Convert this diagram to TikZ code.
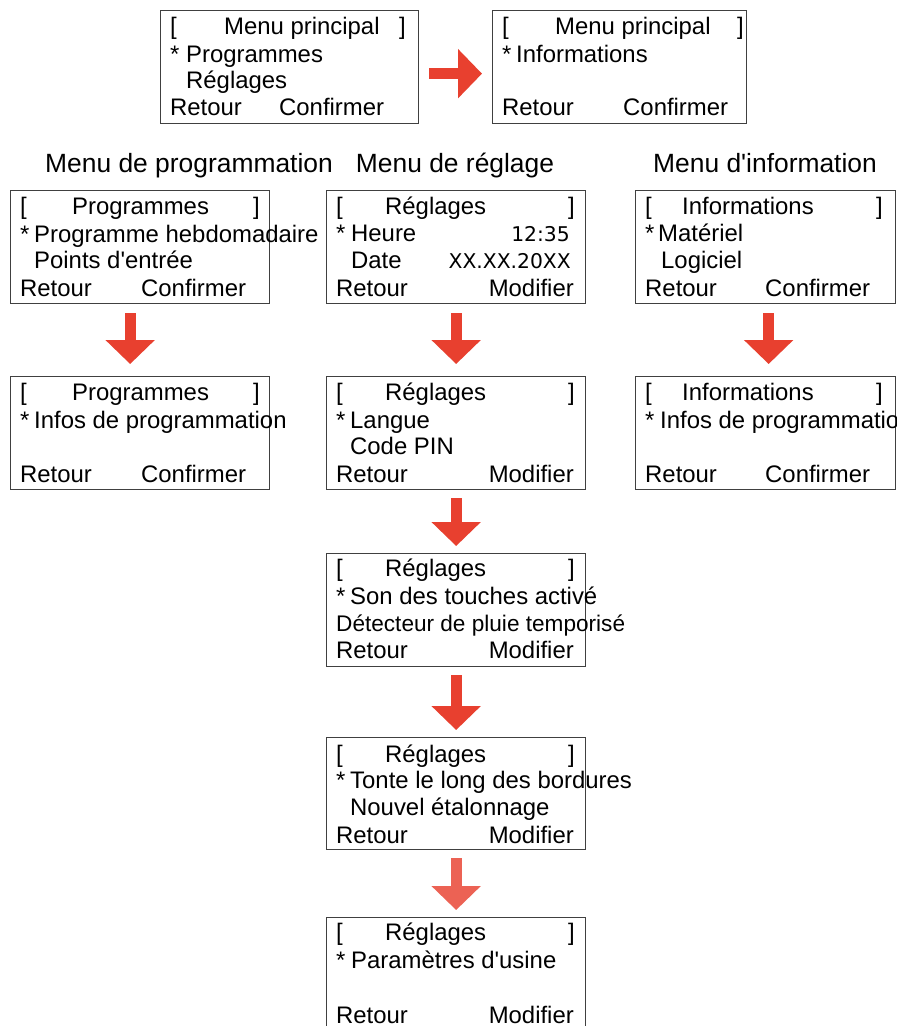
\documentclass[tikz,border=0pt]{standalone}
\usepackage{fontspec}
\setmainfont{Liberation Sans}
\newfontfamily\lcdfont{DejaVu Sans}
\usetikzlibrary{arrows.meta, positioning}
\definecolor{arrowred}{RGB}{232,64,47}
\definecolor{arrowpale}{RGB}{236,98,84}

\begin{document}
\begin{tikzpicture}[x=1pt, y=-1pt,
	screen/.style={draw=black!75, line width=1.3pt, inner sep=0pt, anchor=north west, minimum width=259pt, minimum height=113pt},
	txt/.style={anchor=base west, inner sep=0pt, font=\fontsize{23.9}{28}\selectfont},
	txtr/.style={txt, anchor=base east},
	lcd/.style={anchor=base east, inner sep=0pt, font=\lcdfont\fontsize{20.3}{24}\selectfont},
	heading/.style={anchor=base, inner sep=0pt, font=\fontsize{26.4}{30}\selectfont},
	flow/.style={draw=arrowred, line width=11pt, -{Triangle[width=48pt,length=24pt]}, shorten <=8pt, shorten >=7pt}]
				\path[use as bounding box, clip] (0,0) rectangle (897,1026);
				\fill[white] (0,0) rectangle (897,1026);
				\node[screen, minimum width=258pt] (main1) at (160,10) {};
				\node[txt] (main1-o) at ([shift={(10,24)}]main1.north west) {[};
				\node[txt] (main1-t) at ([shift={(64,24)}]main1.north west) {Menu principal};
				\node[txt] (main1-c) at ([shift={(239,24)}]main1.north west) {]};
				\node[txt] (main1-s) at ([shift={(10,52)}]main1.north west) {*};
				\node[txt] (main1-a) at ([shift={(26,52)}]main1.north west) {Programmes};
				\node[txt] (main1-b) at ([shift={(26,78)}]main1.north west) {Réglages};
				\node[txt] (main1-k) at ([shift={(10,105)}]main1.north west) {Retour};
				\node[txt] (main1-m) at ([shift={(119,105)}]main1.north west) {Confirmer};
				\node[screen, minimum width=254pt] (main2) at (492,10) {};
				\node[txt] (main2-o) at ([shift={(10,24)}]main2.north west) {[};
				\node[txt] (main2-t) at ([shift={(63,24)}]main2.north west) {Menu principal};
				\node[txt] (main2-c) at ([shift={(245,24)}]main2.north west) {]};
				\node[txt] (main2-s) at ([shift={(10,52)}]main2.north west) {*};
				\node[txt] (main2-a) at ([shift={(24,52)}]main2.north west) {Informations};
				\node[txt] (main2-k) at ([shift={(10,105)}]main2.north west) {Retour};
				\node[txt] (main2-m) at ([shift={(131,105)}]main2.north west) {Confirmer};
				\draw[flow, shorten <=10pt, shorten >=10pt] ([yshift=-6.5pt]main1.east) -- ([yshift=-6.5pt]main2.west);
				\node[heading] (hprog) at (189,172) {Menu de programmation};
				\node[heading] (hregl) at (455,172) {Menu de réglage};
				\node[heading] (hinfo) at (765,172) {Menu d\textquotesingle information};
				\node[screen] (prog1) at (10,190) {};
				\node[txt] (prog1-o) at ([shift={(10,24)}]prog1.north west) {[};
				\node[txt] (prog1-t) at ([shift={(62,24)}]prog1.north west) {Programmes};
				\node[txt] (prog1-c) at ([shift={(243,24)}]prog1.north west) {]};
				\node[txt] (prog1-s) at ([shift={(10,52)}]prog1.north west) {*};
				\node[txt] (prog1-a) at ([shift={(24,52)}]prog1.north west) {Programme hebdomadaire};
				\node[txt] (prog1-b) at ([shift={(24,78)}]prog1.north west) {Points d\textquotesingle entrée};
				\node[txt] (prog1-k) at ([shift={(10,106)}]prog1.north west) {Retour};
				\node[txt] (prog1-m) at ([shift={(131,106)}]prog1.north west) {Confirmer};
				\node[screen] (regl1) at (326,190) {};
				\node[txt] (regl1-o) at ([shift={(10,24)}]regl1.north west) {[};
				\node[txt] (regl1-t) at ([shift={(59,24)}]regl1.north west) {Réglages};
				\node[txt] (regl1-c) at ([shift={(242,24)}]regl1.north west) {]};
				\node[txt] (regl1-s) at ([shift={(10,51)}]regl1.north west) {*};
				\node[txt] (regl1-a) at ([shift={(25,51)}]regl1.north west) {Heure};
				\node[lcd] (regl1-h) at ([shift={(244,51)}]regl1.north west) {12:35};
				\node[txt] (regl1-b) at ([shift={(25,78)}]regl1.north west) {Date};
				\node[lcd] (regl1-d) at ([shift={(245,78)}]regl1.north west) {XX.XX.20XX};
				\node[txt] (regl1-k) at ([shift={(10,106)}]regl1.north west) {Retour};
				\node[txtr] (regl1-m) at ([shift={(248,106)}]regl1.north west) {Modifier};
				\node[screen, minimum width=260pt] (info1) at (635,190) {};
				\node[txt] (info1-o) at ([shift={(10,24)}]info1.north west) {[};
				\node[txt] (info1-t) at ([shift={(47,24)}]info1.north west) {Informations};
				\node[txt] (info1-c) at ([shift={(241,24)}]info1.north west) {]};
				\node[txt] (info1-s) at ([shift={(10,51)}]info1.north west) {*};
				\node[txt] (info1-a) at ([shift={(23,51)}]info1.north west) {Matériel};
				\node[txt] (info1-b) at ([shift={(26,78)}]info1.north west) {Logiciel};
				\node[txt] (info1-k) at ([shift={(10,106)}]info1.north west) {Retour};
				\node[txt] (info1-m) at ([shift={(130,106)}]info1.north west) {Confirmer};
				\node[screen] (prog2) at (10,376) {};
				\node[txt] (prog2-o) at ([shift={(10,24)}]prog2.north west) {[};
				\node[txt] (prog2-t) at ([shift={(62,24)}]prog2.north west) {Programmes};
				\node[txt] (prog2-c) at ([shift={(243,24)}]prog2.north west) {]};
				\node[txt] (prog2-s) at ([shift={(10,52)}]prog2.north west) {*};
				\node[txt] (prog2-a) at ([shift={(24,52)}]prog2.north west) {Infos de programmation};
				\node[txt] (prog2-k) at ([shift={(10,106)}]prog2.north west) {Retour};
				\node[txt] (prog2-m) at ([shift={(131,106)}]prog2.north west) {Confirmer};
				\node[screen] (regl2) at (326,376) {};
				\node[txt] (regl2-o) at ([shift={(10,24)}]regl2.north west) {[};
				\node[txt] (regl2-t) at ([shift={(59,24)}]regl2.north west) {Réglages};
				\node[txt] (regl2-c) at ([shift={(242,24)}]regl2.north west) {]};
				\node[txt] (regl2-s) at ([shift={(10,52)}]regl2.north west) {*};
				\node[txt] (regl2-a) at ([shift={(24,52)}]regl2.north west) {Langue};
				\node[txt] (regl2-b) at ([shift={(24,78)}]regl2.north west) {Code PIN};
				\node[txt] (regl2-k) at ([shift={(10,106)}]regl2.north west) {Retour};
				\node[txtr] (regl2-m) at ([shift={(248,106)}]regl2.north west) {Modifier};
				\node[screen, minimum width=260pt] (info2) at (635,376) {};
				\node[txt] (info2-o) at ([shift={(10,24)}]info2.north west) {[};
				\node[txt] (info2-t) at ([shift={(47,24)}]info2.north west) {Informations};
				\node[txt] (info2-c) at ([shift={(241,24)}]info2.north west) {]};
				\node[txt] (info2-s) at ([shift={(10,52)}]info2.north west) {*};
				\node[txt] (info2-a) at ([shift={(25,52)}]info2.north west) {Infos de programmation};
				\node[txt] (info2-k) at ([shift={(10,106)}]info2.north west) {Retour};
				\node[txt] (info2-m) at ([shift={(130,106)}]info2.north west) {Confirmer};
				\node[screen] (regl3) at (326,553) {};
				\node[txt] (regl3-o) at ([shift={(10,23)}]regl3.north west) {[};
				\node[txt] (regl3-t) at ([shift={(59,23)}]regl3.north west) {Réglages};
				\node[txt] (regl3-c) at ([shift={(242,23)}]regl3.north west) {]};
				\node[txt] (regl3-s) at ([shift={(10,51)}]regl3.north west) {*};
				\node[txt] (regl3-a) at ([shift={(24,51)}]regl3.north west) {Son des touches activé};
				\node[txt, font=\fontsize{22.6}{28}\selectfont] (regl3-b) at ([shift={(10,78)}]regl3.north west) {Détecteur de pluie temporisé};
				\node[txt] (regl3-k) at ([shift={(10,105)}]regl3.north west) {Retour};
				\node[txtr] (regl3-m) at ([shift={(248,105)}]regl3.north west) {Modifier};
				\node[screen, minimum height=112pt] (regl4) at (326,737) {};
				\node[txt] (regl4-o) at ([shift={(10,25)}]regl4.north west) {[};
				\node[txt] (regl4-t) at ([shift={(59,25)}]regl4.north west) {Réglages};
				\node[txt] (regl4-c) at ([shift={(242,25)}]regl4.north west) {]};
				\node[txt] (regl4-s) at ([shift={(10,51)}]regl4.north west) {*};
				\node[txt] (regl4-a) at ([shift={(24,51)}]regl4.north west) {Tonte le long des bordures};
				\node[txt] (regl4-b) at ([shift={(24,78)}]regl4.north west) {Nouvel étalonnage};
				\node[txt] (regl4-k) at ([shift={(10,106)}]regl4.north west) {Retour};
				\node[txtr] (regl4-m) at ([shift={(248,106)}]regl4.north west) {Modifier};
				\node[screen] (regl5) at (326,917) {};
				\node[txt] (regl5-o) at ([shift={(10,23)}]regl5.north west) {[};
				\node[txt] (regl5-t) at ([shift={(59,23)}]regl5.north west) {Réglages};
				\node[txt] (regl5-c) at ([shift={(242,23)}]regl5.north west) {]};
				\node[txt] (regl5-s) at ([shift={(10,51)}]regl5.north west) {*};
				\node[txt] (regl5-a) at ([shift={(25,51)}]regl5.north west) {Paramètres d\textquotesingle usine};
				\node[txt] (regl5-k) at ([shift={(10,106)}]regl5.north west) {Retour};
				\node[txtr] (regl5-m) at ([shift={(248,106)}]regl5.north west) {Modifier};
				\draw[flow, shorten <=9pt, shorten >=12pt] ([xshift=-10pt]prog1.south) -- ([xshift=-10pt]prog2.north);
				\draw[flow, shorten <=9pt, shorten >=12pt] (regl1.south) -- (regl2.north);
				\draw[flow, shorten <=9pt, shorten >=12pt] ([xshift=3pt]info1.south) -- ([xshift=3pt]info2.north);
				\draw[flow] (regl2.south) -- (regl3.north);
				\draw[flow] (regl3.south) -- (regl4.north);
				\draw[flow, draw=arrowpale] (regl4.south) -- (regl5.north);
			\end{tikzpicture}
\end{document}
